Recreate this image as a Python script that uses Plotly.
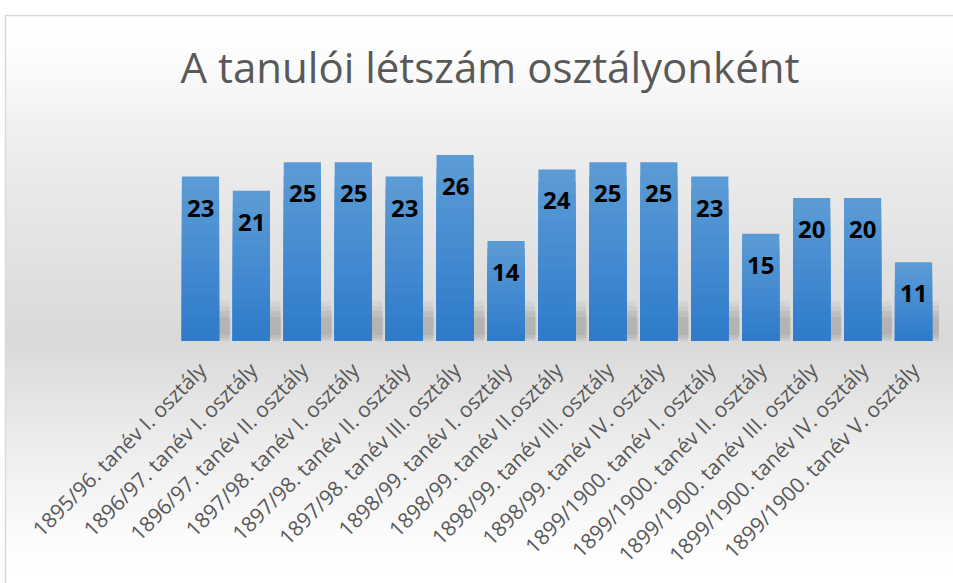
import plotly.graph_objects as go

categories = [
    "1895/96. tanév I. osztály",
    "1896/97. tanév I. osztály",
    "1896/97. tanév II. osztály",
    "1897/98. tanév I. osztály",
    "1897/98. tanév II. osztály",
    "1897/98. tanév III. osztály",
    "1898/99. tanév I. osztály",
    "1898/99. tanév II.osztály",
    "1898/99. tanév III. osztály",
    "1898/99. tanév IV. osztály",
    "1899/1900. tanév I. osztály",
    "1899/1900. tanév II. osztály",
    "1899/1900. tanév III. osztály",
    "1899/1900. tanév IV. osztály",
    "1899/1900. tanév V. osztály",
]
values = [23, 21, 25, 25, 23, 26, 14, 24, 25, 25, 23, 15, 20, 20, 11]
title_text = "A tanulói létszám osztályonként"

W, H = 953, 583
L, R, T, B = 175, 14, 130, 242
PW, PH = W - L - R, H - T - B
PX_PER_UNIT = 7.15

def px_x(p):
    return (p - L) / PW

def px_y(p):
    return (H - B - p) / PH

def lerp(c1, c2, t):
    return tuple(round(a + (b - a) * t) for a, b in zip(c1, c2))

def hexc(c):
    return "#%02x%02x%02x" % c

fig = go.Figure()

# gradient bars via overlaid bars of decreasing height
N = 14
top_c = (0x5b, 0x9b, 0xd5)
bot_c = (0x2f, 0x7c, 0xcb)
for k in range(N):
    frac = 1 - k / N
    col = hexc(lerp(top_c, bot_c, k / (N - 1)))
    fig.add_trace(go.Bar(
        x=categories, y=[v * frac for v in values],
        marker=dict(color=col, line=dict(width=0)),
        width=0.73, hoverinfo="skip", showlegend=False,
    ))

for c, v in zip(categories, values):
    fig.add_annotation(x=c, y=v, text=f"<b>{v}</b>", showarrow=False,
                       yanchor="top", yshift=-12,
                       font=dict(size=24, color="#000000", family="Open Sans"))

# background gradient strips
shapes = []
stops = [(15, (255, 255, 255)), (60, (252, 252, 252)), (140, (238, 238, 238)),
         (340, (217, 217, 217)), (440, (236, 236, 236)), (540, (252, 252, 252)),
         (583, (255, 255, 255))]
step = 4
y = 15
while y < H:
    y2 = min(y + step, H)
    ym = (y + y2) / 2
    for (a, ca), (b, cb) in zip(stops[:-1], stops[1:]):
        if a <= ym <= b:
            col = lerp(ca, cb, (ym - a) / (b - a))
            break
    shapes.append(dict(type="rect", xref="paper", yref="paper",
                       x0=px_x(5), x1=px_x(W + 5), y0=px_y(y2 + 0.5), y1=px_y(y),
                       fillcolor=hexc(col), line=dict(width=0), layer="below"))
    y = y2
shapes.append(dict(type="rect", xref="paper", yref="paper",
                   x0=px_x(5.5), x1=px_x(W + 5), y0=px_y(H + 5), y1=px_y(15.5),
                   fillcolor="rgba(0,0,0,0)", line=dict(color="#d9d9d9", width=1.5),
                   layer="below"))

# soft bar shadows (style only)
shadow_layers = [(-1, 40, 0.20, 0.05), (1, 35, 0.21, 0.06), (3, 30, 0.22, 0.07), (6, 24, 0.23, 0.07)]
for i in range(len(categories)):
    for lo, hi, ext, op in shadow_layers:
        shapes.append(dict(type="rect", xref="x", yref="y",
                           x0=i + 0.15, x1=i + 0.365 + ext,
                           y0=lo / PX_PER_UNIT, y1=hi / PX_PER_UNIT,
                           fillcolor=f"rgba(60,60,60,{op})", line=dict(width=0),
                           layer="below"))

fig.update_layout(
    width=W, height=H,
    margin=dict(l=L, r=R, t=T, b=B, autoexpand=False),
    paper_bgcolor="white", plot_bgcolor="rgba(0,0,0,0)",
    barmode="overlay", bargap=0.27,
    shapes=shapes,
    title=dict(text=title_text, x=490 / W, xref="container", xanchor="center",
               y=1 - 68 / H, yref="container", yanchor="middle",
               font=dict(family="Open Sans", size=42, color="#595959")),
    xaxis=dict(tickangle=-45, showgrid=False, showline=False, zeroline=False,
               ticks="", ticklabelstandoff=12,
               tickfont=dict(family="Open Sans", size=21, color="#595959"),
               range=[-0.5, len(categories) - 0.5]),
    yaxis=dict(visible=False, range=[-2 / PX_PER_UNIT * 0, PH / PX_PER_UNIT],
               showgrid=False, zeroline=False),
    font=dict(family="Open Sans"),
)

fig.write_html("out.html")
